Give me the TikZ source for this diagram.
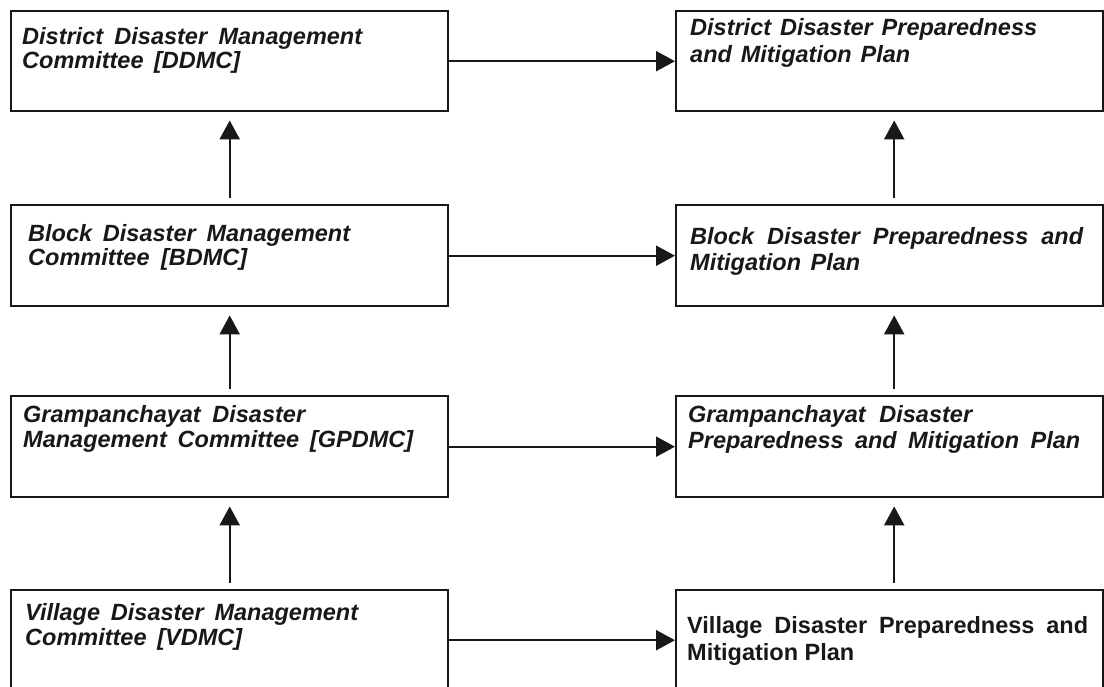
\documentclass[tikz,border=0pt]{standalone}
\usepackage{fontspec}
\setmainfont{Liberation Sans}
\usetikzlibrary{arrows.meta}
\definecolor{ink}{RGB}{24,24,24}
\begin{document}
\begin{tikzpicture}[x=1pt,y=-1pt,
  box/.style={draw=ink,line width=2.4pt,inner sep=0pt,anchor=north west,
              minimum height=100pt},
  leftbox/.style={box,minimum width=437pt},
  rightbox/.style={box,minimum width=427pt},
  txt/.style={anchor=base west,inner sep=0pt,text=ink,
              font=\fontsize{23.5pt}{24pt}\selectfont\bfseries\itshape},
  uptxt/.style={txt,font=\fontsize{23.5pt}{24pt}\selectfont\bfseries},
  arr/.style={draw=ink,line width=2.3pt,
              -{Triangle[length=19pt,width=20pt]}},
  uparr/.style={arr,shorten <=6pt,shorten >=8pt}]
\useasboundingbox (0,0) rectangle (1104,686);

% committees (left column)
\node[leftbox] (ddmc)  at (10,10)  {};
\node[leftbox,minimum height=101pt] (bdmc)  at (10,204) {};
\node[leftbox,minimum height=101pt] (gpdmc) at (10,395) {};
\node[leftbox] (vdmc)  at (10,589) {};

% plans (right column)
\node[rightbox] (dplan) at (675,10)  {};
\node[rightbox,minimum height=101pt] (bplan) at (675,204) {};
\node[rightbox,minimum height=101pt] (gplan) at (675,395) {};
\node[rightbox] (vplan) at (675,589) {};

% box texts
\node[txt] (ddmc-a) at (22,44) {\makebox[340pt][s]{District Disaster Management}};
\node[txt] (ddmc-b) at (22,68) {\makebox[218pt][s]{Committee [DDMC]}};
\node[txt] (dplan-a) at (690,35) {\makebox[347pt][s]{District Disaster Preparedness}};
\node[txt] (dplan-b) at (690,62) {\makebox[220pt][s]{and Mitigation Plan}};

\node[txt] (bdmc-a) at (28,241) {\makebox[322pt][s]{Block Disaster Management}};
\node[txt] (bdmc-b) at (28,265) {\makebox[219pt][s]{Committee [BDMC]}};
\node[txt] (bplan-a) at (690,244) {\makebox[393pt][s]{Block Disaster Preparedness and}};
\node[txt] (bplan-b) at (690,270) {\makebox[170pt][s]{Mitigation Plan}};

\node[txt] (gpdmc-a) at (23,422) {\makebox[282pt][s]{Grampanchayat Disaster}};
\node[txt] (gpdmc-b) at (23,447) {\makebox[390pt][s]{Management Committee [GPDMC]}};
\node[txt] (gplan-a) at (688,422) {\makebox[284pt][s]{Grampanchayat Disaster}};
\node[txt] (gplan-b) at (688,448) {\makebox[392pt][s]{Preparedness and Mitigation Plan}};

\node[txt] (vdmc-a) at (25,620) {\makebox[333pt][s]{Village Disaster Management}};
\node[txt] (vdmc-b) at (25,645) {\makebox[217pt][s]{Committee [VDMC]}};
\node[uptxt] (vplan-a) at (687,633) {\makebox[401pt][s]{Village Disaster Preparedness and}};
\node[uptxt] (vplan-b) at (687,660) {Mitigation Plan};

% committee -> plan
\draw[arr] (ddmc.east)  -- (dplan.west);
\draw[arr] (bdmc.east)  -- (bplan.west);
\draw[arr] (gpdmc.east) -- (gplan.west);
\draw[arr] (vdmc.east)  -- (vplan.west);

% upward reporting, committees
\draw[uparr] (bdmc.north)  -- (ddmc.south);
\draw[uparr] (gpdmc.north) -- (bdmc.south);
\draw[uparr] (vdmc.north)  -- (gpdmc.south);

% upward reporting, plans
\draw[uparr] ([xshift=4.5pt]bplan.north) -- ([xshift=4.5pt]dplan.south);
\draw[uparr] ([xshift=4.5pt]gplan.north) -- ([xshift=4.5pt]bplan.south);
\draw[uparr] ([xshift=4.5pt]vplan.north) -- ([xshift=4.5pt]gplan.south);
\end{tikzpicture}
\end{document}
